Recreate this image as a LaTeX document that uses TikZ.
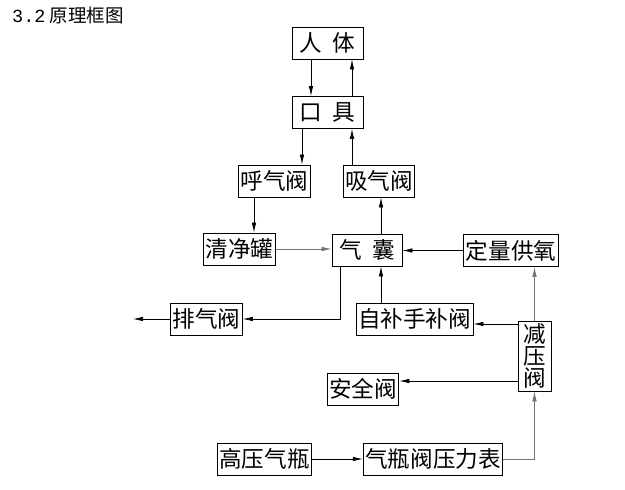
\documentclass[tikz,border=0pt]{standalone}
\usepackage{fontspec}
\setmainfont{Noto Sans CJK SC}
\newfontfamily\monofont{Liberation Mono}
\usetikzlibrary{arrows.meta}

\begin{document}
\begin{tikzpicture}[x=1pt,y=-1pt]%
  \tikzstyle{blk}=[draw,line width=0.9pt,inner xsep=2pt,inner ysep=1pt,minimum height=32pt,font=\fontsize{22.6}{22.6}\selectfont]
  \tikzstyle{flow}=[line width=0.7pt,-{Latex[length=10pt,width=4.5pt]}]
  \tikzstyle{light}=[draw=black!55]
  \useasboundingbox (0,0) rectangle (625,490);
  \node(title)[anchor=west,inner sep=0,font=\fontsize{18.5}{18.5}\selectfont] at (12,15) {{\monofont 3.2} 原理框图};
  % boxes
  \node(body)[blk,minimum width=71pt] at (327.5,43) {人\hspace{0.45em}体};
  \node(mouth)[blk,minimum width=71pt] at (327.5,112.5) {口\hspace{0.45em}具};
  \node(exhale)[blk] at (274.5,181) {呼气阀};
  \node(inhale)[blk] at (379,181) {吸气阀};
  \node(canister)[blk] at (239.5,249) {清净罐};
  \node(bag)[blk,minimum width=70pt] at (367,250) {气\hspace{0.45em}囊};
  \node(dose)[blk] at (511,250.5) {定量供氧};
  \node(dump)[blk] at (206.5,319) {排气阀};
  \node(bypass)[blk] at (414.5,319) {自补手补阀};
  \node(reducer)[blk,minimum width=33pt,minimum height=70pt,align=center,font=\fontsize{22.6}{22}\selectfont] at (534.5,356) {减\\压\\阀};
  \node(relief)[blk] at (363,389) {安全阀};
  \node(cylinder)[blk] at (264.5,459) {高压气瓶};
  \node(gauge)[blk] at (433,459) {气瓶阀压力表};
  \coordinate(vent) at (133,319);
  % breathing loop
  \draw[flow] (body.south -| 311,0) -- (mouth.north -| 311,0);
  \draw[flow] (mouth.north -| 352,0) -- (body.south -| 352,0);
  \draw[flow] (mouth.south -| 302,0) -- (exhale.north -| 302,0);
  \draw[flow] (inhale.north -| 352,0) -- (mouth.south -| 352,0);
  \draw[flow] (exhale.south -| 254,0) -- (canister.north -| 254,0);
  \draw[flow,light] (canister.east) -- (canister.east -| bag.west);
  \draw[flow] (bag.north -| 381,0) -- (inhale.south -| 381,0);
  \draw[flow] (dose.west) -- (dose.west -| bag.east);
  \draw[flow] (bypass.north -| 381,0) -- (bag.south -| 381,0);
  \draw[flow] (bag.south -| 340,0) |- (dump.east);
  \draw[flow] (dump.west) -- (vent);
  % oxygen supply
  \draw[flow] (cylinder.east) -- (gauge.west);
  \draw[flow,light] (gauge.east) -| (reducer.south);
  \draw[flow,light] (reducer.north) -- (reducer.north |- dose.south);
  \draw[flow] (reducer.west |- 0,324) -- (bypass.east |- 0,324);
  \draw[flow] (reducer.west |- 0,381) -- (relief.east |- 0,381);
\end{tikzpicture}
\end{document}
